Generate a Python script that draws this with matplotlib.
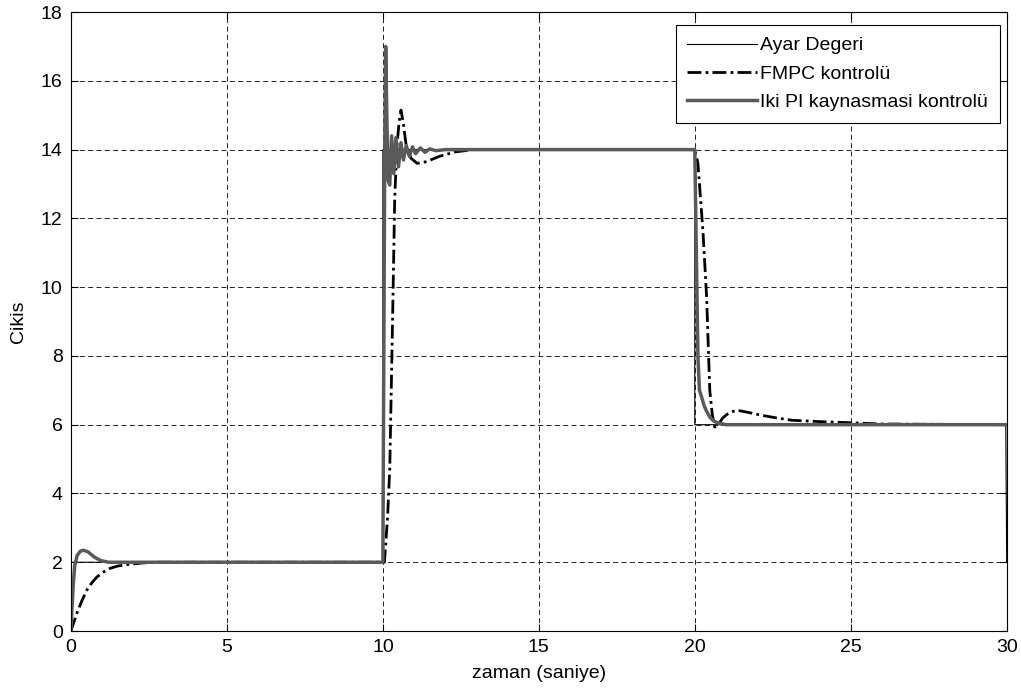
import numpy as np
import matplotlib.pyplot as plt

plt.rcParams['font.family'] = ['Liberation Sans', 'DejaVu Sans']

# Ayar Degeri (setpoint)
t_ref = [0, 0, 10, 10, 20, 20, 29.97, 30]
y_ref = [0, 2, 2, 14, 14, 6, 6, 2]

# FMPC kontrolu
t_fmpc = [0, 0.08, 0.19, 0.35, 0.51, 0.67, 0.83, 1.05, 1.25, 1.5, 1.8, 2.3, 2.7, 10.0,
          10.05, 10.15, 10.22, 10.3, 10.38, 10.45, 10.52, 10.58, 10.65, 10.75, 10.9,
          11.1, 11.4, 11.8, 12.3, 12.9, 20.0,
          20.1, 20.26, 20.38, 20.48, 20.56, 20.64, 20.75, 20.9, 21.1, 21.35, 21.7,
          22.1, 22.6, 23.1, 24.0, 24.9, 26.0, 30.0]
y_fmpc = [0, 0.22, 0.52, 0.88, 1.19, 1.40, 1.57, 1.72, 1.82, 1.89, 1.93, 1.98, 2.0, 2.0,
          2.0, 3.3, 4.7, 8.5, 12.6, 14.1, 14.8, 15.15, 14.8, 14.1, 13.75,
          13.6, 13.65, 13.8, 13.93, 14.0, 14.0,
          13.6, 11.65, 9.7, 7.0, 6.3, 5.93, 6.0, 6.2, 6.35, 6.42, 6.36,
          6.28, 6.2, 6.13, 6.09, 6.06, 6.02, 6.0]

# Iki PI kaynasmasi kontrolu
t_pi = [0, 0.03, 0.07, 0.12, 0.2, 0.3, 0.4, 0.55, 0.75, 0.95, 1.2, 10.0,
        10.03, 10.06, 10.09, 10.13, 10.17, 10.22, 10.28, 10.35, 10.42, 10.5,
        10.58, 10.66, 10.75, 10.85, 10.95, 11.05, 11.2, 11.35, 11.5, 11.7, 12.0, 20.0,
        20.05, 20.1, 20.15, 20.22, 20.3, 20.4, 20.5, 20.62, 20.75, 20.9, 21.0, 30.0]
y_pi = [0, 0.6, 1.3, 1.9, 2.2, 2.32, 2.35, 2.3, 2.15, 2.05, 2.0, 2.0,
        8.0, 14.0, 17.0, 14.8, 13.1, 12.97, 14.4, 13.3, 14.35, 13.5,
        14.2, 13.7, 14.12, 13.8, 14.08, 13.88, 14.05, 13.92, 14.02, 13.97, 14.0, 14.0,
        11.0, 8.0, 7.0, 6.8, 6.55, 6.35, 6.2, 6.1, 6.05, 6.02, 6.0, 6.0]

fig = plt.figure(figsize=(10.21, 6.9), dpi=100)
ax = fig.add_axes([0.0695, 0.0855, 0.9165, 0.897])

ax.plot(t_ref, y_ref, color='black', lw=0.8, label='Ayar Degeri')
ax.plot(t_fmpc, y_fmpc, color='black', lw=2.0, linestyle=(0, (5, 1.5, 1, 1.5)),
        label='FMPC kontrolü')
ax.plot(t_pi, y_pi, color='#5a5a5a', lw=2.5, label='Iki PI kaynasmasi kontrolü')

ax.set_xlim(0, 30)
ax.set_ylim(0, 18)
ax.set_xticks(np.arange(0, 31, 5))
ax.set_yticks(np.arange(0, 19, 2))
ax.grid(True, color='black', linestyle=(0, (6, 4)), lw=0.6)
ax.tick_params(direction='in', top=True, right=True, length=5, labelsize=14, pad=6)
for s in ax.spines.values():
    s.set_linewidth(0.8)

ax.set_xlabel('zaman (saniye)', fontsize=14, labelpad=6)
ax.set_ylabel('Cikis', fontsize=14, labelpad=10)

leg = ax.legend(loc='upper right', bbox_to_anchor=(0.9925, 0.979), borderaxespad=0,
                fontsize=14, fancybox=False, framealpha=1, edgecolor='black',
                handlelength=3.6, handletextpad=0.15, borderpad=0.6,
                labelspacing=0.55)
leg.get_frame().set_linewidth(0.8)

fig.savefig('out.png', dpi=100)
